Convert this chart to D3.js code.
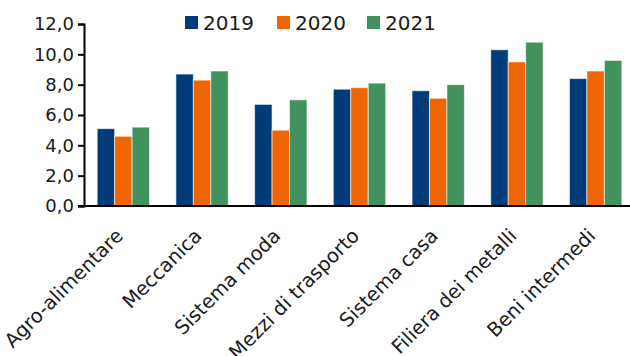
<!DOCTYPE html>
<html>
<head>
<meta charset="utf-8">
<script src="https://cdn.jsdelivr.net/npm/d3@7"></script>
<style>
  html, body { margin: 0; padding: 0; background: #fff; }
  svg { display: block; }
  text { font-family: "DejaVu Sans", sans-serif; fill: #1a1a1a; }
</style>
</head>
<body>
<svg id="chart" width="630" height="356"></svg>
<script>
// Sector categories and yearly values
const categories = ["Agro-alimentare", "Meccanica", "Sistema moda", "Mezzi di trasporto",
                    "Sistema casa", "Filiera dei metalli", "Beni intermedi"];
const years = ["2019", "2020", "2021"];
const values2019 = [5.1, 8.7, 6.7, 7.7, 7.6, 10.3, 8.4];
const values2020 = [4.6, 8.3, 5.0, 7.8, 7.1, 9.5, 8.9];
const values2021 = [5.2, 8.9, 7.0, 8.1, 8.0, 10.8, 9.6];
const yTicks = [0, 2, 4, 6, 8, 10, 12];
const colors = ["#003B7A", "#EE6502", "#41925E"];

const series = [values2019, values2020, values2021];
const rows = categories.map((c, i) => ({ cat: c, vals: series.map(s => s[i]) }));

const svg = d3.select("#chart");
const fmt = v => d3.format(".1f")(v).replace(".", ",");

const y = d3.scaleLinear().domain([0, 12]).range([206, 24]);
const x0 = d3.scaleBand().domain(categories).range([84, 635])
  .paddingInner(0.335).paddingOuter(0.1675);
const x1 = d3.scaleBand().domain(years).range([0, x0.bandwidth()]);
const color = d3.scaleOrdinal().domain(years).range(colors);

// Bars
const groups = svg.append("g").selectAll("g").data(rows).join("g")
  .attr("transform", d => `translate(${x0(d.cat)},0)`);
groups.selectAll("rect")
  .data(d => d.vals.map((v, k) => ({ year: years[k], v })))
  .join("rect")
  .attr("x", d => x1(d.year))
  .attr("y", d => y(d.v))
  .attr("width", x1.bandwidth())
  .attr("height", d => y(0) - y(d.v))
  .attr("fill", d => color(d.year))
  .attr("stroke", "rgba(255,255,255,0.6)")
  .attr("stroke-width", 1);

// Y axis
const yAxis = d3.axisLeft(y).tickValues(yTicks).tickFormat(fmt).tickSize(6).tickPadding(4);
const gy = svg.append("g").attr("transform", "translate(84,0)").call(yAxis);
gy.select(".domain").attr("stroke", "#000").attr("stroke-width", 2);
gy.selectAll(".tick line").attr("stroke", "#000").attr("stroke-width", 2);
gy.selectAll(".tick text").style("font-size", "18px").attr("fill", "#1a1a1a")
  .style("font-family", "DejaVu Sans, sans-serif");

// X axis baseline
const xAxis = d3.axisBottom(x0).tickSize(0).tickFormat("");
const gx = svg.append("g").attr("transform", `translate(0,${y(0)})`).call(xAxis);
gx.select(".domain").attr("stroke", "#000").attr("stroke-width", 2)
  .attr("d", "M78,0H630");

// Rotated category labels
svg.append("g").selectAll("text").data(categories).join("text")
  .attr("transform", d => `translate(${x0(d) + x0.bandwidth() / 2 + 1},237) rotate(-45)`)
  .attr("text-anchor", "end")
  .style("font-size", "19.5px")
  .text(d => d);

// Legend
const legendX = [185, 277, 367];
const lg = svg.append("g").selectAll("g").data(years).join("g")
  .attr("transform", (d, i) => `translate(${legendX[i]},16)`);
lg.append("rect").attr("width", 13).attr("height", 13).attr("fill", d => color(d));
lg.append("text").attr("x", 18).attr("y", 14).style("font-size", "20px").text(d => d);
</script>
</body>
</html>
